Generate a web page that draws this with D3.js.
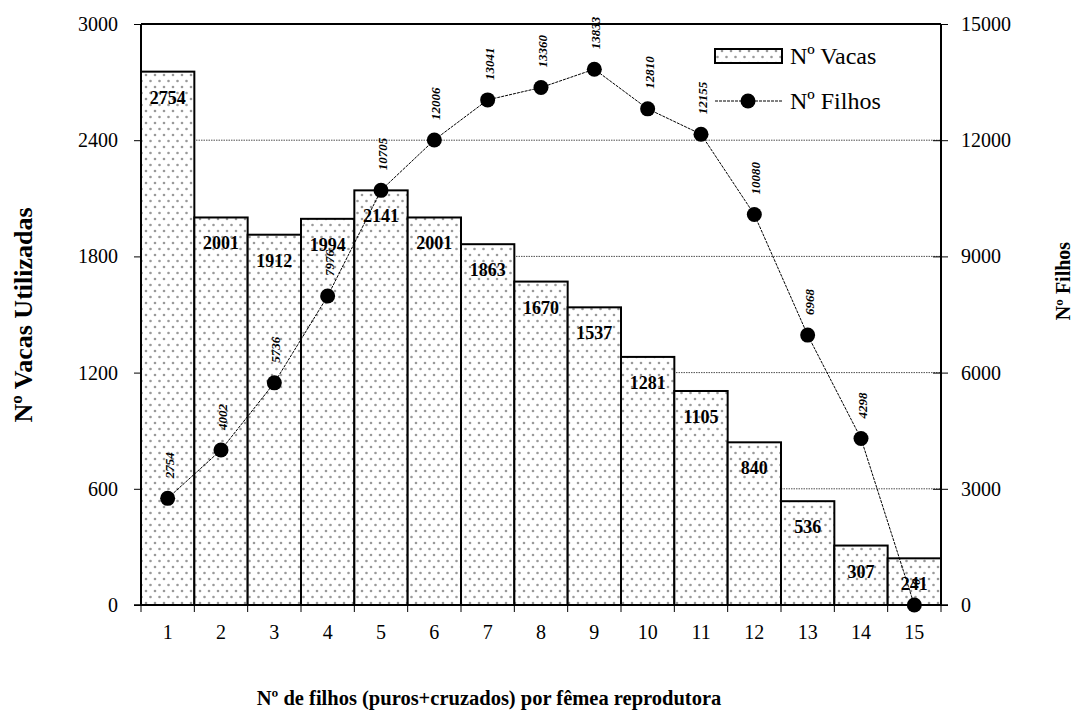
<!DOCTYPE html>
<html>
<head>
<meta charset="utf-8">
<script src="https://cdnjs.cloudflare.com/ajax/libs/d3/7.8.5/d3.min.js"></script>
<style>
  html, body { margin: 0; padding: 0; background: #fff; }
  svg { display: block; font-family: "Liberation Serif", "Times New Roman", serif; }
</style>
</head>
<body>
<svg id="chart" width="1085" height="711"></svg>
<script>
// Number of calves per breeding female
const categories = ["1","2","3","4","5","6","7","8","9","10","11","12","13","14","15"];
// Cows used (bars, left axis)
const vacas = [2754, 2001, 1912, 1994, 2141, 2001, 1863, 1670, 1537, 1281, 1105, 840, 536, 307, 241];
// Calves produced (line, right axis)
const filhos = [2754, 4002, 5736, 7976, 10705, 12006, 13041, 13360, 13833, 12810, 12155, 10080, 6968, 4298, 0];
const leftTicks = [0, 600, 1200, 1800, 2400, 3000];
const rightTicks = [0, 3000, 6000, 9000, 12000, 15000];

const margin = { left: 141, right: 144, top: 24, bottom: 106 };
const W = 1085, H = 711;
const x0 = margin.left, x1 = W - margin.right;
const y0 = H - margin.bottom, y1 = margin.top;

const svg = d3.select("#chart");

const defs = svg.append("defs");
const pat = defs.append("pattern")
  .attr("id", "dots").attr("patternUnits", "userSpaceOnUse")
  .attr("width", 9).attr("height", 12);
pat.append("rect").attr("width", 9).attr("height", 12).attr("fill", "#fff");
pat.append("circle").attr("cx", 2).attr("cy", 3).attr("r", 1.3).attr("fill", "#999");
pat.append("circle").attr("cx", 6.5).attr("cy", 9).attr("r", 1.3).attr("fill", "#999");

const x = d3.scaleBand().domain(categories).range([x0, x1]).padding(0);
const yL = d3.scaleLinear().domain([0, 3000]).range([y0, y1]);
const yR = d3.scaleLinear().domain([0, 15000]).range([y0, y1]);

// Horizontal grid
svg.append("g").selectAll("line")
  .data(leftTicks.filter(d => d > 0 && d < 3000))
  .join("line")
  .attr("x1", x0).attr("x2", x1)
  .attr("y1", d => yL(d)).attr("y2", d => yL(d))
  .attr("stroke", "#222").attr("stroke-width", 0.8)
  .attr("stroke-dasharray", "1.5,1");

// Bars
svg.append("g").selectAll("rect")
  .data(vacas)
  .join("rect")
  .attr("x", (d, i) => x(categories[i]))
  .attr("width", x.bandwidth())
  .attr("y", d => yL(d))
  .attr("height", d => y0 - yL(d))
  .attr("fill", "url(#dots)")
  .attr("stroke", "#000").attr("stroke-width", 2);

// Bar value labels
svg.append("g").selectAll("text")
  .data(vacas)
  .join("text")
  .attr("x", (d, i) => x(categories[i]) + x.bandwidth() / 2)
  .attr("y", d => yL(d) + 32)
  .attr("text-anchor", "middle")
  .attr("font-size", 18).attr("font-weight", "bold")
  .text(d => d);

// Axes
const axL = d3.axisLeft(yL).tickValues(leftTicks).tickSize(7).tickPadding(16).tickFormat(d3.format("d"));
const axR = d3.axisRight(yR).tickValues(rightTicks).tickSize(7).tickPadding(13).tickFormat(d3.format("d"));
const axB = d3.axisBottom(x).tickSize(0).tickPadding(20);

function styleAxis(g) {
  g.select(".domain").remove();
  g.selectAll("text").attr("font-size", 20).attr("fill", "#000")
    .attr("font-family", "Liberation Serif, Times New Roman, serif");
  g.selectAll(".tick line").attr("stroke", "#000").attr("stroke-width", 1);
}
svg.append("g").attr("transform", `translate(${x0},0)`).call(axL).call(styleAxis);
svg.append("g").attr("transform", `translate(${x1},0)`).call(axR).call(styleAxis)
  .selectAll(".tick line").attr("x1", -8);
svg.append("g").attr("transform", `translate(0,${y0})`).call(axB).call(styleAxis);

// Category boundary ticks on the x axis
const bounds = categories.map(c => x(c)).concat([x1]);
svg.append("g").selectAll("line").data(bounds).join("line")
  .attr("x1", d => d).attr("x2", d => d)
  .attr("y1", y0).attr("y2", y0 + 7)
  .attr("stroke", "#000").attr("stroke-width", 1);

// Frame
svg.append("line").attr("x1", x0 - 7).attr("x2", x1 + 7).attr("y1", y0).attr("y2", y0)
  .attr("stroke", "#000").attr("stroke-width", 1.5);
svg.append("line").attr("x1", x0).attr("x2", x1).attr("y1", y1).attr("y2", y1)
  .attr("stroke", "#000").attr("stroke-width", 2);
svg.append("line").attr("x1", x0).attr("x2", x0).attr("y1", y1).attr("y2", y0)
  .attr("stroke", "#000").attr("stroke-width", 2);
svg.append("line").attr("x1", x1).attr("x2", x1).attr("y1", y1).attr("y2", y0)
  .attr("stroke", "#000").attr("stroke-width", 2);

// Calves line
const cx = (d, i) => x(categories[i]) + x.bandwidth() / 2;
const line = d3.line().x(cx).y(d => yR(d));
svg.append("path").datum(filhos)
  .attr("d", line).attr("fill", "none")
  .attr("stroke", "#000").attr("stroke-width", 1)
  .attr("stroke-dasharray", "3,1");
svg.append("g").selectAll("circle").data(filhos).join("circle")
  .attr("cx", cx).attr("cy", d => yR(d)).attr("r", 7.5).attr("fill", "#000");

// Calves value labels (rotated)
svg.append("g").selectAll("text").data(filhos).join("text")
  .attr("transform", (d, i) => `translate(${cx(d, i) + 6},${yR(d) - 20}) rotate(-90)`)
  .attr("text-anchor", "start")
  .attr("font-size", 13).attr("font-style", "italic").attr("font-weight", "bold")
  .text(d => d);

// Legend
const lg = svg.append("g");
lg.append("rect").attr("x", 715).attr("y", 49).attr("width", 67).attr("height", 14)
  .attr("fill", "url(#dots)").attr("stroke", "#000").attr("stroke-width", 2);
lg.append("text").attr("x", 790).attr("y", 64).attr("font-size", 24).text("Nº Vacas");
lg.append("line").attr("x1", 715).attr("x2", 782).attr("y1", 101).attr("y2", 101)
  .attr("stroke", "#000").attr("stroke-width", 1).attr("stroke-dasharray", "3,1");
lg.append("circle").attr("cx", 748).attr("cy", 101).attr("r", 7.5).attr("fill", "#000");
lg.append("text").attr("x", 790).attr("y", 109).attr("font-size", 24).text("Nº Filhos");

// Axis titles
svg.append("text")
  .attr("transform", `translate(32,315) rotate(-90)`)
  .attr("text-anchor", "middle").attr("font-size", 26).attr("font-weight", "bold")
  .text("Nº Vacas Utilizadas");
svg.append("text")
  .attr("transform", `translate(1070,281) rotate(-90)`)
  .attr("text-anchor", "middle").attr("font-size", 20).attr("font-weight", "bold")
  .text("Nº Filhos");
svg.append("text")
  .attr("x", 489).attr("y", 705)
  .attr("text-anchor", "middle").attr("font-size", 20.5).attr("font-weight", "bold")
  .text("Nº de filhos (puros+cruzados) por fêmea reprodutora");
</script>
</body>
</html>
